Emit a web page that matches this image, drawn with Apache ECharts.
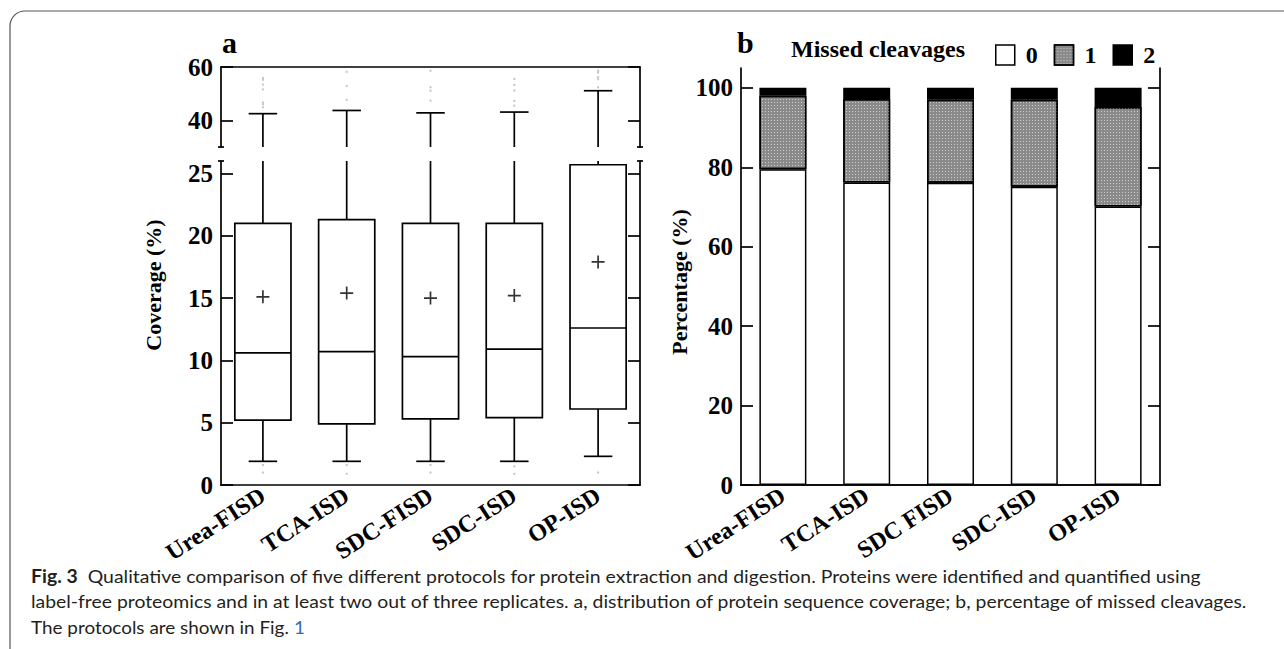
<!DOCTYPE html>
<html>
<head>
<meta charset="utf-8">
<script src="https://cdn.jsdelivr.net/npm/echarts@6/dist/echarts.min.js"></script>
<style>
html, body { margin: 0; padding: 0; background: #fff; }
#main { width: 1284px; height: 649px; }
</style>
</head>
<body>
<div id="main"></div>
<script>
// panel a: sequence coverage (%)
var categoriesA = ['Urea-FISD', 'TCA-ISD', 'SDC-FISD', 'SDC-ISD', 'OP-ISD'];
var whiskerLow = [1.9, 1.9, 1.9, 1.9, 2.3];
var q1 = [5.2, 4.9, 5.3, 5.4, 6.1];
var median = [10.6, 10.7, 10.3, 10.9, 12.6];
var q3 = [21.0, 21.3, 21.0, 21.0, 25.7];
var whiskerHigh = [42.5, 43.7, 42.8, 43.1, 51.1];
var mean = [15.1, 15.4, 15.0, 15.2, 17.9];
var outliers = [
	[0, 55.9], [0, 55.2], [0, 53.4], [0, 51.6], [0, 46.7], [0, 46.0], [0, 44.9], [0, 1.6], [0, 1.0],
	[1, 58.2], [1, 52.9], [1, 47.7], [1, 1.6], [1, 0.9],
	[2, 58.6], [2, 52.4], [2, 51.1], [2, 47.4], [2, 1.6], [2, 1.0],
	[3, 55.5], [3, 53.3], [3, 51.2], [3, 47.3], [3, 45.5], [3, 1.5], [3, 0.9],
	[4, 58.6], [4, 57.9], [4, 56.2], [4, 55.4], [4, 52.4], [4, 1.0]
];
var ticksUpper = [40, 60];
var ticksLower = [0, 5, 10, 15, 20, 25];

// panel b: missed cleavages (%)
var categoriesB = ['Urea-FISD', 'TCA-ISD', 'SDC FISD', 'SDC-ISD', 'OP-ISD'];
var missed0 = [79.5, 76.2, 76.1, 75.1, 70.1];
var missed1 = [18.5, 21.0, 20.9, 21.9, 25.1];
var missed2 = [2.0, 2.8, 3.0, 3.0, 4.8];
var ticksB = [0, 20, 40, 60, 80, 100];

// layout
var A_LEFT = 221, A_W = 419;
var A_UP_TOP = 67, A_UP_H = 80;
var A_LO_TOP = 161, A_LO_H = 324;
var B_LEFT = 741, B_W = 419, B_TOP = 68, B_H = 417;

var serif = 'Liberation Serif';
var boxData = categoriesA.map(function (c, i) {
	return [i, whiskerLow[i], q1[i], median[i], q3[i], whiskerHigh[i]];
});
var meanData = categoriesA.map(function (c, i) { return [i, mean[i]]; });

function renderBox(params, api) {
	var cs = params.coordSys;
	var top = cs.y, bottom = cs.y + cs.height;
	var i = api.value(0);
	var band = api.size([1, 0])[0];
	var boxW = band * 0.67, capW = band * 0.34;
	var cx = api.coord([i, 0])[0];
	function py(v) { return api.coord([i, v])[1]; }
	function clampY(y) { return Math.min(Math.max(y, top), bottom); }
	var style = { stroke: '#000', lineWidth: 1.7, fill: null };
	var kids = [];
	function vline(y1, y2) {
		var a = clampY(y1), b = clampY(y2);
		if (Math.abs(a - b) > 0.5) kids.push({ type: 'line', shape: { x1: cx, y1: a, x2: cx, y2: b }, style: style });
	}
	function hline(y, w) {
		if (y >= top - 0.5 && y <= bottom + 0.5) kids.push({ type: 'line', shape: { x1: cx - w / 2, y1: y, x2: cx + w / 2, y2: y }, style: style });
	}
	var yLo = py(api.value(1)), yQ1 = py(api.value(2)), yMed = py(api.value(3)), yQ3 = py(api.value(4)), yHi = py(api.value(5));
	vline(yLo, yQ1);
	vline(yQ3, yHi);
	hline(yLo, capW);
	hline(yHi, capW);
	var bt = clampY(yQ3), bb = clampY(yQ1);
	if (bb - bt > 0.5) kids.push({ type: 'rect', shape: { x: cx - boxW / 2, y: bt, width: boxW, height: bb - bt }, style: { stroke: '#000', lineWidth: 1.7, fill: '#fff' } });
	hline(yMed, boxW);
	return { type: 'group', children: kids };
}

var axisLineStyle = { show: true, lineStyle: { color: '#000', width: 1.7 } };
function yAx(grid, min, max, ticks, pos, labels) {
	return {
		type: 'value', gridIndex: grid, position: pos, min: min, max: max,
		axisLine: axisLineStyle,
		axisTick: { show: true, inside: true, length: 12, customValues: ticks, lineStyle: { color: '#000', width: 1.7 } },
		axisLabel: {
			show: labels, customValues: ticks, margin: 8,
			fontFamily: serif, fontWeight: 'bold', fontSize: 25, color: '#000'
		},
		splitLine: { show: false }
	};
}
var xLabel = {
	rotate: 33, margin: 8, interval: 0,
	fontFamily: serif, fontWeight: 'bold', fontSize: 24, color: '#000'
};

// caption text, each line fitted to its width in the figure
var capFont = '18px Lato';
var capLeft = 31;
var line1 = 'Qualitative comparison of five different protocols for protein extraction and digestion. Proteins were identified and quantified using';
var line2 = 'label-free proteomics and in at least two out of three replicates. a, distribution of protein sequence coverage; b, percentage of missed cleavages.';
var line3 = 'The protocols are shown in Fig. ';
var ctx = document.createElement('canvas').getContext('2d');
function textW(s, f) { ctx.font = f; return ctx.measureText(s).width; }
var scale1 = 1171 / (textW('Fig. 3', 'bold 18px Lato') + textW('  ' + line1, capFont));
var scale2 = 1218 / textW(line2, capFont);
var scale3 = 274 / textW(line3 + '1', capFont);

var chart = echarts.init(document.getElementById('main'), null, { renderer: 'svg' });
var option = {
	backgroundColor: '#fff',
	animation: false,
	title: [
		{ text: 'a', left: 222, top: 27, padding: 0, textStyle: { fontFamily: serif, fontWeight: 'bold', fontSize: 30, color: '#000' } },
		{ text: 'b', left: 737, top: 27, padding: 0, textStyle: { fontFamily: serif, fontWeight: 'bold', fontSize: 30, color: '#000' } },
		{ text: 'Missed cleavages', left: 791, top: 37, padding: 0, textStyle: { fontFamily: serif, fontWeight: 'bold', fontSize: 24, color: '#000' } }
	],
	legend: {
		data: ['0', '1', '2'],
		left: 995, top: 43, padding: 0,
		icon: 'rect', itemWidth: 19, itemHeight: 20, itemGap: 16,
		selectedMode: false,
		itemStyle: { borderColor: '#000', borderWidth: 1.5 },
		textStyle: { fontFamily: serif, fontWeight: 'bold', fontSize: 24, color: '#000', padding: [0, 0, 0, 6] }
	},
	grid: [
		{ left: A_LEFT, top: A_UP_TOP, width: A_W, height: A_UP_H },
		{ left: A_LEFT, top: A_LO_TOP, width: A_W, height: A_LO_H },
		{ left: B_LEFT, top: B_TOP, width: B_W, height: B_H }
	],
	xAxis: [
		{ type: 'category', gridIndex: 0, position: 'top', data: categoriesA, axisLine: axisLineStyle, axisTick: { show: false }, axisLabel: { show: false } },
		{ type: 'category', gridIndex: 1, position: 'bottom', data: categoriesA, axisLine: axisLineStyle, axisTick: { show: false }, axisLabel: xLabel },
		{ type: 'category', gridIndex: 2, position: 'bottom', data: categoriesB, axisLine: axisLineStyle, axisTick: { show: false }, axisLabel: xLabel },
		{ type: 'category', gridIndex: 2, position: 'top', data: categoriesB, axisLine: axisLineStyle, axisTick: { show: false }, axisLabel: { show: false } }
	],
	yAxis: [
		yAx(0, 30, 60, ticksUpper, 'left', true),
		yAx(0, 30, 60, ticksUpper, 'right', false),
		yAx(1, 0, 26, ticksLower, 'left', true),
		yAx(1, 0, 26, ticksLower, 'right', false),
		yAx(2, 0, 105, ticksB, 'left', true),
		yAx(2, 0, 105, ticksB, 'right', false)
	],
	series: [
		{
			name: 'box upper', type: 'custom', xAxisIndex: 0, yAxisIndex: 0,
			renderItem: renderBox, encode: { x: 0, y: [1, 2, 3, 4, 5] }, data: boxData, z: 3
		},
		{
			name: 'box lower', type: 'custom', xAxisIndex: 1, yAxisIndex: 2,
			renderItem: renderBox, encode: { x: 0, y: [1, 2, 3, 4, 5] }, data: boxData, z: 3
		},
		{
			name: 'outliers upper', type: 'scatter', xAxisIndex: 0, yAxisIndex: 0, clip: true,
			symbol: 'rect', symbolSize: 2, itemStyle: { color: '#b5b5b5' }, data: outliers, z: 2
		},
		{
			name: 'outliers lower', type: 'scatter', xAxisIndex: 1, yAxisIndex: 2, clip: true,
			symbol: 'rect', symbolSize: 2, itemStyle: { color: '#b5b5b5' }, data: outliers, z: 2
		},
		{
			name: 'mean', type: 'scatter', xAxisIndex: 1, yAxisIndex: 2,
			symbol: 'path://M0,4.35H10V5.65H0Z M4.35,0H5.65V10H4.35Z', symbolSize: 13,
			itemStyle: { color: '#000' }, data: meanData, z: 5
		},
		{
			name: '0', type: 'bar', xAxisIndex: 2, yAxisIndex: 4, stack: 'mc', barWidth: 47,
			itemStyle: { color: '#fff', borderColor: '#000', borderWidth: 1.5 }, data: missed0
		},
		{
			name: '1', type: 'bar', xAxisIndex: 2, yAxisIndex: 4, stack: 'mc', barWidth: 47,
			itemStyle: {
				color: '#8a8a8a', borderColor: '#000', borderWidth: 1.5,
				decal: { symbol: 'rect', symbolSize: 1, dashArrayX: [1, 2], dashArrayY: [1, 2], color: 'rgba(220,220,220,0.8)', rotation: 0 }
			},
			data: missed1
		},
		{
			name: '2', type: 'bar', xAxisIndex: 2, yAxisIndex: 4, stack: 'mc', barWidth: 47,
			itemStyle: { color: '#000', borderColor: '#000', borderWidth: 1.5 }, data: missed2
		}
	],
	graphic: [
		// figure frame
		{ type: 'rect', shape: { x: 10, y: 11, width: 1400, height: 700, r: 15 }, style: { fill: null, stroke: '#555', lineWidth: 1.2 }, silent: true },
		// axis break caps
		{ type: 'line', shape: { x1: A_LEFT - 3, y1: A_UP_TOP + A_UP_H, x2: A_LEFT + 3, y2: A_UP_TOP + A_UP_H }, style: { stroke: '#000', lineWidth: 1.7 } },
		{ type: 'line', shape: { x1: A_LEFT - 3, y1: A_LO_TOP, x2: A_LEFT + 3, y2: A_LO_TOP }, style: { stroke: '#000', lineWidth: 1.7 } },
		{ type: 'line', shape: { x1: A_LEFT + A_W - 3, y1: A_UP_TOP + A_UP_H, x2: A_LEFT + A_W + 3, y2: A_UP_TOP + A_UP_H }, style: { stroke: '#000', lineWidth: 1.7 } },
		{ type: 'line', shape: { x1: A_LEFT + A_W - 3, y1: A_LO_TOP, x2: A_LEFT + A_W + 3, y2: A_LO_TOP }, style: { stroke: '#000', lineWidth: 1.7 } },
		// axis titles
		{ type: 'text', x: 153, y: 285, rotation: Math.PI / 2, style: { text: 'Coverage (%)', font: 'bold 22px "Liberation Serif"', fill: '#000', align: 'center', verticalAlign: 'middle' } },
		{ type: 'text', x: 679, y: 282, rotation: Math.PI / 2, style: { text: 'Percentage (%)', font: 'bold 22px "Liberation Serif"', fill: '#000', align: 'center', verticalAlign: 'middle' } },
		// caption
		{
			type: 'text', x: capLeft, y: 576, scaleX: scale1,
			style: {
				text: '{b|Fig. 3}  ' + line1, font: capFont, fill: '#231f20', verticalAlign: 'middle',
				rich: { b: { font: 'bold 18px Lato', fill: '#231f20' } }
			}
		},
		{ type: 'text', x: capLeft, y: 601, scaleX: scale2, style: { text: line2, font: capFont, fill: '#231f20', verticalAlign: 'middle' } },
		{
			type: 'text', x: capLeft, y: 627, scaleX: scale3,
			style: {
				text: line3 + '{l|1}', font: capFont, fill: '#231f20', verticalAlign: 'middle',
				rich: { l: { font: capFont, fill: '#2f6db5' } }
			}
		}
	]
};
chart.setOption(option);
</script>
</body>
</html>
